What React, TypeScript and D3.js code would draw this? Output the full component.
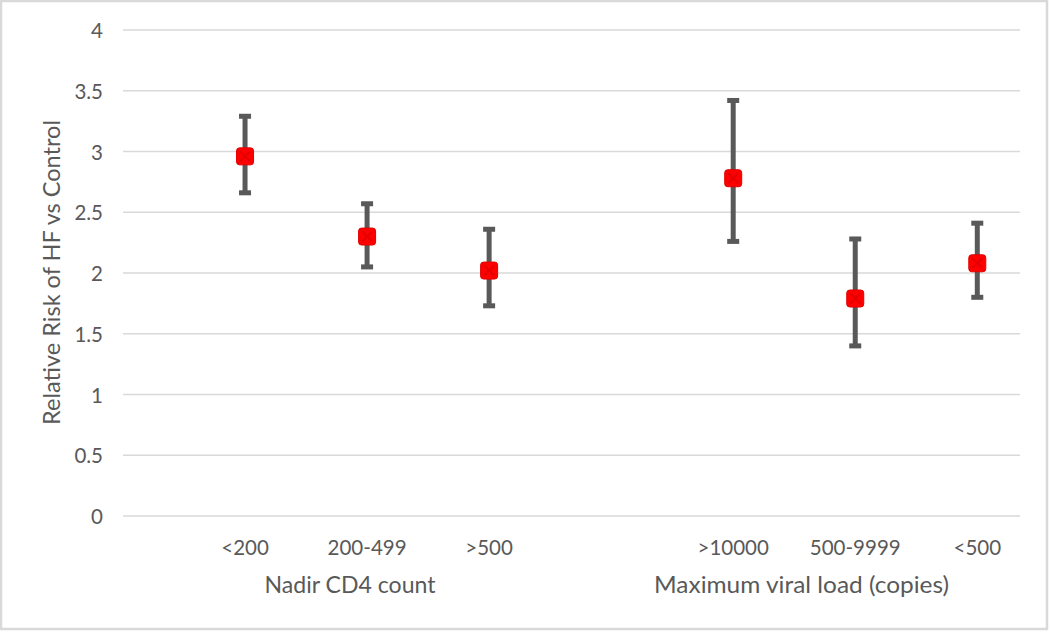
import React from "react";
import * as d3 from "d3";

const categories = ["<200", "200-499", ">500", ">10000", "500-9999", "<500"];
const xPositions = [1, 2, 3, 5, 6, 7];
const means = [2.96, 2.3, 2.02, 2.78, 1.79, 2.08];
const lowers = [2.66, 2.05, 1.73, 2.26, 1.4, 1.8];
const uppers = [3.29, 2.57, 2.36, 3.42, 2.28, 2.41];
const yTicks = [0, 0.5, 1, 1.5, 2, 2.5, 3, 3.5, 4];
const groupLabels = ["Nadir CD4 count", "Maximum viral load (copies)"];
const groupAnchors = [1.86, 5.56];
const groupWidths = [171, 295];
const yTitle = "Relative Risk of HF vs Control";

const W = 1050;
const H = 633;
const FONT = "Lato, 'Open Sans', sans-serif";
const TEXT = "#595959";

export default function App() {
  const x = d3.scaleLinear().domain([0, 7.35]).range([123, 1020]);
  const y = d3.scaleLinear().domain([0, 4]).range([516, 30]);
  const capW = 12;
  const capH = 5;
  const m = 17;

  return (
    <svg
      width={W}
      height={H}
      style={{ position: "absolute", left: 0, top: 0, background: "#fff" }}
    >
      <rect x={1} y={1} width={1046} height={628} fill="#fff" stroke="#d9d9d9" strokeWidth={2.5} />
      {yTicks.map((t) => (
        <g key={t}>
          <line x1={x(0)} x2={x(7.35)} y1={y(t)} y2={y(t)} stroke="#d9d9d9" strokeWidth={1.3} />
          <text
            x={103}
            y={y(t)}
            textAnchor="end"
            dominantBaseline="central"
            fontFamily={FONT}
            fontSize={20.5}
            fill={TEXT}
          >
            {String(t)}
          </text>
        </g>
      ))}
      <text
        transform={`translate(51,${(120 + 425) / 2}) rotate(-90)`}
        textAnchor="middle"
        dominantBaseline="central"
        fontFamily={FONT}
        fontSize={23}
        textLength={305}
        lengthAdjust="spacingAndGlyphs"
        fill={TEXT}
      >
        {yTitle}
      </text>
      {categories.map((c, i) => (
        <text
          key={c}
          x={x(xPositions[i])}
          y={547}
          textAnchor="middle"
          dominantBaseline="central"
          fontFamily={FONT}
          fontSize={20.5}
          fill={TEXT}
        >
          {c}
        </text>
      ))}
      {groupLabels.map((g, i) => (
        <text
          key={g}
          x={x(groupAnchors[i])}
          y={584}
          textAnchor="middle"
          dominantBaseline="central"
          fontFamily={FONT}
          fontSize={23}
          textLength={groupWidths[i]}
          lengthAdjust="spacingAndGlyphs"
          fill={TEXT}
        >
          {g}
        </text>
      ))}
      {categories.map((c, i) => {
        const cx = x(xPositions[i]);
        return (
          <g key={"eb" + c}>
            <line x1={cx} x2={cx} y1={y(uppers[i])} y2={y(lowers[i])} stroke="#595959" strokeWidth={5} />
            <rect x={cx - capW / 2} y={y(uppers[i]) - capH / 2} width={capW} height={capH} fill="#595959" />
            <rect x={cx - capW / 2} y={y(lowers[i]) - capH / 2} width={capW} height={capH} fill="#595959" />
          </g>
        );
      })}
      {categories.map((c, i) => {
        const cx = x(xPositions[i]);
        const cy = y(means[i]);
        return (
          <g key={"mk" + c}>
            <rect
              x={cx - m / 2}
              y={cy - m / 2}
              width={m}
              height={m}
              rx={3}
              fill="#ff0000"
              stroke="#e00000"
              strokeWidth={1}
            />
            <path
              d={`M${cx - 5},${cy - 5}L${cx + 5},${cy + 5}M${cx - 5},${cy + 5}L${cx + 5},${cy - 5}`}
              stroke="#d40000"
              strokeWidth={2}
              opacity={0.6}
            />
          </g>
        );
      })}
    </svg>
  );
}
